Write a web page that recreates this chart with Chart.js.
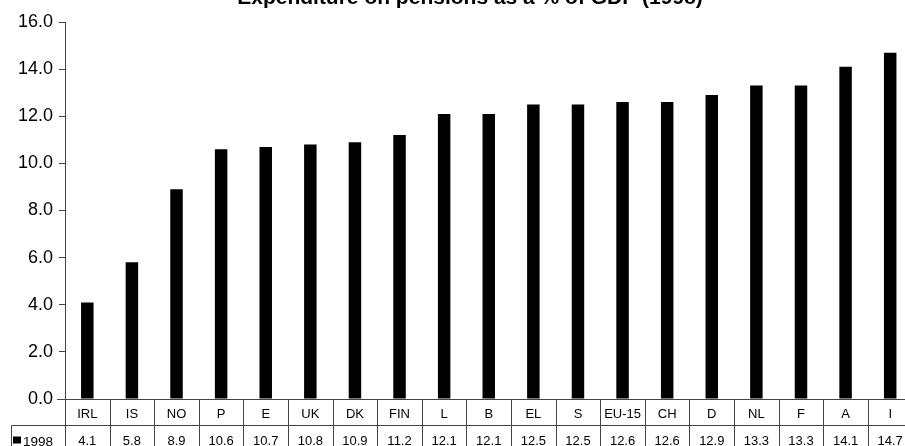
<!DOCTYPE html>
<html>
<head>
<meta charset="utf-8">
<script src="https://cdn.jsdelivr.net/npm/chart.js@4.4.1/dist/chart.umd.min.js"></script>
<style>
  html, body { margin: 0; padding: 0; background: #fff; overflow: hidden; }
  #wrap { width: 914px; height: 446px; }
</style>
</head>
<body>
<div id="wrap"><canvas id="myChart" width="914" height="446"></canvas></div>
<script>
// pensions spending, % of GDP
var chartTitle = "Expenditure on pensions as a % of GDP (1998)";
var seriesName = "1998";
var arrayPaises = ["IRL", "IS", "NO", "P", "E", "UK", "DK", "FIN", "L", "B", "EL", "S", "EU-15", "CH", "D", "NL", "F", "A", "I"];
var arrayGasto = [4.1, 5.8, 8.9, 10.6, 10.7, 10.8, 10.9, 11.2, 12.1, 12.1, 12.5, 12.5, 12.6, 12.6, 12.9, 13.3, 13.3, 14.1, 14.7];
var yMin = 0, yMax = 16, yStep = 2;

var fuente = "'Liberation Sans', Arial, sans-serif";
var colorLinea = "#444";

/* tabla de datos bajo el eje X + título */
var tablaPlugin = {
	id: "tablaDatos",
	afterDraw: function(chart) {
		var ctx = chart.ctx;
		var area = chart.chartArea;
		var xs = chart.scales.x;
		var n = arrayPaises.length;
		var ancho = (xs.getPixelForValue(n - 1) - xs.getPixelForValue(0)) / (n - 1);
		var izq = xs.getPixelForValue(0) - ancho / 2;
		var yEje = Math.round(area.bottom) + 0.5;
		var yFila = yEje + 26;
		var yFin = chart.height;

		ctx.save();
		ctx.strokeStyle = colorLinea;
		ctx.lineWidth = 1;
		ctx.beginPath();
		// eje X con su marca a la izquierda
		ctx.moveTo(izq - 8, yEje);
		ctx.lineTo(izq + n * ancho, yEje);
		// línea entre categorías y valores
		ctx.moveTo(11.5, yFila);
		ctx.lineTo(izq + n * ancho, yFila);
		ctx.moveTo(11.5, yFila);
		ctx.lineTo(11.5, yFin);
		for (var i = 0; i <= n; i++) {
			var x = Math.round(izq + i * ancho) + 0.5;
			ctx.moveTo(x, yEje);
			ctx.lineTo(x, yFin);
		}
		ctx.stroke();

		ctx.fillStyle = "#000";
		ctx.font = "13px " + fuente;
		ctx.textAlign = "center";
		ctx.textBaseline = "alphabetic";
		for (var j = 0; j < n; j++) {
			var cx = xs.getPixelForValue(j);
			ctx.fillText(arrayPaises[j], cx, yEje + 18);
			ctx.fillText(arrayGasto[j].toFixed(1), cx, yFila + 19);
		}

		// leyenda de la serie
		ctx.fillRect(13, yFila + 11, 8, 7);
		ctx.textAlign = "left";
		ctx.font = "13.5px " + fuente;
		ctx.fillText(seriesName, 23, yFila + 20);

		// título (recortado arriba)
		ctx.font = "bold 21px " + fuente;
		ctx.textAlign = "center";
		ctx.fillText(chartTitle, 470, 4);
		ctx.restore();
	}
};

var ctx = document.getElementById("myChart").getContext("2d");
var myBarChart = new Chart(ctx, {
	type: "bar",
	data: {
		labels: arrayPaises,
		datasets: [{
			label: seriesName,
			data: arrayGasto,
			backgroundColor: "#000",
			borderWidth: 0,
			barPercentage: 0.28,
			categoryPercentage: 1
		}]
	},
	options: {
		responsive: false,
		animation: false,
		devicePixelRatio: 1,
		layout: { padding: { top: 22, right: 1.5, left: 0, bottom: 0 } },
		plugins: {
			legend: { display: false },
			title: { display: false },
			tooltip: { enabled: false }
		},
		scales: {
			x: {
				ticks: { display: false },
				grid: { display: false },
				border: { display: false },
				afterFit: function(s) { s.height = 47; }
			},
			y: {
				min: yMin,
				max: yMax,
				ticks: {
					stepSize: yStep,
					color: "#000",
					font: { family: fuente, size: 18 },
					padding: 6,
					callback: function(v) { return v.toFixed(1); }
				},
				grid: {
					drawOnChartArea: false,
					drawTicks: true,
					tickLength: 6,
					color: colorLinea
				},
				border: { display: true, color: colorLinea, width: 1 },
				afterFit: function(s) { s.width = 65; }
			}
		}
	},
	plugins: [tablaPlugin]
});
</script>
</body>
</html>
